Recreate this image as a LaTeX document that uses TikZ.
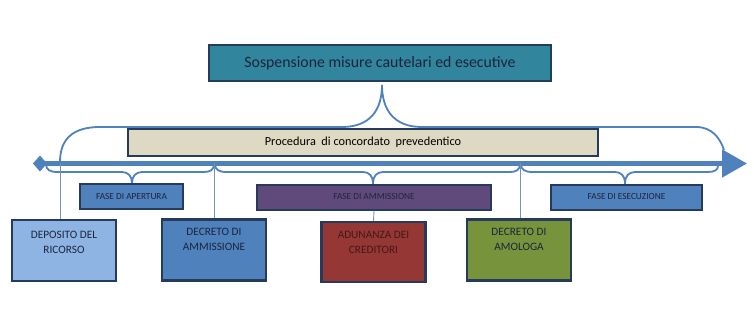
\documentclass[tikz,border=0pt]{standalone}
\usepackage{fontspec}
\setmainfont{Carlito}
\usetikzlibrary{arrows.meta, positioning}
\definecolor{cNavy}{RGB}{38,58,92}
\definecolor{cTeal}{RGB}{49,133,156}
\definecolor{cBeige}{RGB}{221,217,195}
\definecolor{cBlue}{RGB}{79,129,189}
\definecolor{cLight}{RGB}{141,180,226}
\definecolor{cPurple}{RGB}{96,74,123}
\definecolor{cRed}{RGB}{149,55,53}
\definecolor{cGreen}{RGB}{119,147,60}
\definecolor{cLine}{RGB}{120,145,180}
\definecolor{cText}{RGB}{30,36,60}
\tikzset{
	topbox/.style  ={rectangle, draw=cNavy, line width=2pt, minimum width=342pt, minimum height=36pt, inner sep=0pt, font=\fontsize{15.8}{18}\selectfont, text=cText},
	procbox/.style ={rectangle, draw=cNavy, line width=2.2pt, fill=cBeige, minimum width=470pt, minimum height=27pt, inner sep=0pt, font=\fontsize{12.3}{14}\selectfont, text=black},
	phasebox/.style={rectangle, draw=cNavy, line width=2pt, minimum height=25pt, inner sep=0pt, font=\fontsize{9.3}{10}\selectfont, text=cText},
	evbox/.style   ={rectangle, draw=cNavy, line width=2.2pt, minimum width=104pt, minimum height=61pt, inner sep=0pt},
	evtext/.style  ={align=center, inner sep=0pt, font=\fontsize{11.3}{15}\selectfont, text=cText},
	brace/.style   ={cBlue, line width=1.8pt},
	tick/.style    ={cLine, line width=0.9pt},
	timeline/.style={cBlue, line width=5pt, {Diamond[length=14pt,width=16pt]}-{Triangle[length=25pt,width=27pt]}},
}
\begin{document}
\begin{tikzpicture}[x=1pt, y=-1pt]
	\useasboundingbox (0,0) rectangle (754,313);
	% upper boxes
	\node[topbox, fill=cTeal] (sosp) at (380,63) {Sospensione misure cautelari ed esecutive};
	\node[procbox] (proc) at (363,142.5) {\raisebox{-3pt}{Procedura\ \ di concordato\ \ prevedentico}};
	% big brace
	\draw[brace] (60,162) .. controls (60,138) and (74,127) .. (100,127) -- (342,127)
		.. controls (370,127) and (382,110) .. (382,85)
		.. controls (382,110) and (394,127) .. (422,127) -- (696,127)
		.. controls (712,127) and (720,138) .. (724,150);
	% time axis
	\draw[timeline] (33,163.5) -- (747,163.5);
	\coordinate (t1) at (60,163);
	\coordinate (t2) at (214,163);
	\coordinate (t3) at (520,163);
	% phase braces
	\draw[brace] (46,164) .. controls (46,170) and (50,172) .. (58,172) -- (122,172)
		.. controls (128,172) and (132,176) .. (132,183)
		.. controls (132,176) and (136,172) .. (142,172) -- (204,172)
		.. controls (210,172) and (214,170) .. (214,164);
	\draw[brace] (215,164) .. controls (215,170) and (219,172) .. (227,172) -- (363,172)
		.. controls (369,172) and (373,176) .. (373,183)
		.. controls (373,176) and (377,172) .. (383,172) -- (510,172)
		.. controls (516,172) and (520,170) .. (520,164);
	\draw[brace] (521,164) .. controls (521,170) and (525,172) .. (533,172) -- (615,172)
		.. controls (621,172) and (625,176) .. (625,183)
		.. controls (625,176) and (629,172) .. (635,172) -- (708,172)
		.. controls (714,172) and (718,170) .. (718,166);
	% phases
	\node[phasebox, fill=cBlue, minimum width=103pt] (aper) at (131.5,196.5) {FASE DI APERTURA};
	\node[phasebox, fill=cPurple, minimum width=234pt] (amm) at (374,197) {FASE DI AMMISSIONE};
	\node[phasebox, fill=cBlue, minimum width=151pt] (esec) at (626.5,197) {FASE DI ESECUZIONE};
	% events
	\node[evbox, fill=cLight] (dep) at (64,250.5) {};
	\node[evbox, fill=cBlue] (dam) at (214,250) {};
	\node[evbox, fill=cRed, minimum height=60pt] (adun) at (373.5,252) {};
	\node[evbox, fill=cGreen] (omo) at (519,250) {};
	\node[evtext, below=12pt of dep.north] (dep-t) {DEPOSITO DEL\\RICORSO};
	\node[evtext, below=10pt of dam.north] (dam-t) {DECRETO DI\\AMMISSIONE};
	\node[evtext, below=10pt of adun.north, text=cRed!45!black] (adun-t) {ADUNANZA DEI\\CREDITORI};
	\node[evtext, below=10pt of omo.north] (omo-t) {DECRETO DI\\AMOLOGA};
	% ticks
	\draw[tick] (t1) -- (t1 |- dep.north);
	\draw[tick] (t2) -- (t2 |- dam.north);
	\draw[tick] (t3) -- (t3 |- omo.north);
	\draw[tick] (amm.south) -- (adun.north);
\end{tikzpicture}
\end{document}
